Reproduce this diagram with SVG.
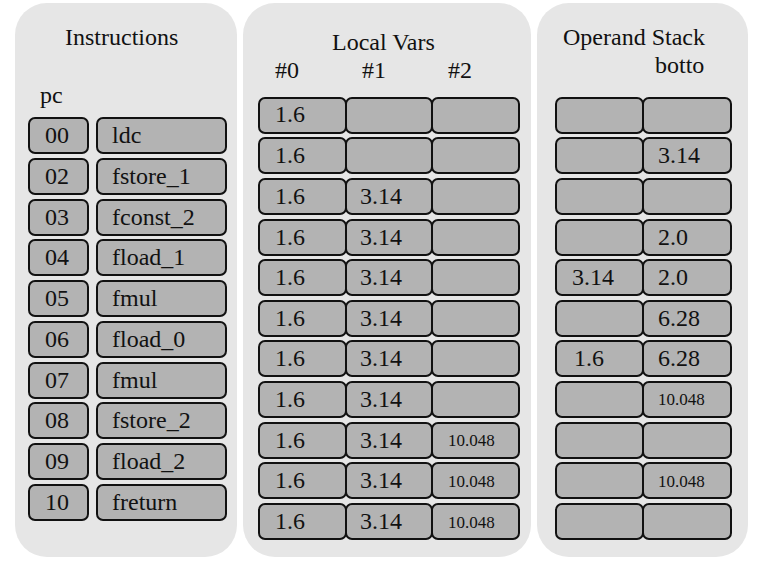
<svg xmlns="http://www.w3.org/2000/svg" width="766" height="564" viewBox="0 0 766 564">
  <style>
    .panel { fill: #e6e6e6; }
    .cell { fill: #b3b3b3; stroke: #111; stroke-width: 2; }
    .t { font-size: 24px; fill: #111; }
    .s { font-size: 17px; fill: #111; }
  </style>
  <rect width="766" height="564" fill="#ffffff"/>

  <g font-family="Liberation Serif, Times New Roman, Tinos, DejaVu Serif, Noto Serif, serif">
  <!-- Instructions panel -->
  <g id="instructions">
    <rect class="panel" x="15" y="3" width="222" height="554" rx="32"/>
    <text class="t" x="65" y="45">Instructions</text>
    <text class="t" x="40" y="103">pc</text>
    <g id="pc-col">
      <rect class="cell" x="29" y="118" width="59" height="35" rx="6"/>
      <rect class="cell" x="29" y="159" width="59" height="35" rx="6"/>
      <rect class="cell" x="29" y="200" width="59" height="35" rx="6"/>
      <rect class="cell" x="29" y="240" width="59" height="35" rx="6"/>
      <rect class="cell" x="29" y="281" width="59" height="35" rx="6"/>
      <rect class="cell" x="29" y="322" width="59" height="35" rx="6"/>
      <rect class="cell" x="29" y="363" width="59" height="35" rx="6"/>
      <rect class="cell" x="29" y="403" width="59" height="35" rx="6"/>
      <rect class="cell" x="29" y="444" width="59" height="35" rx="6"/>
      <rect class="cell" x="29" y="485" width="59" height="35" rx="6"/>
      <text class="t" x="45" y="143">00</text>
      <text class="t" x="45" y="184">02</text>
      <text class="t" x="45" y="225">03</text>
      <text class="t" x="45" y="265">04</text>
      <text class="t" x="45" y="306">05</text>
      <text class="t" x="45" y="347">06</text>
      <text class="t" x="45" y="388">07</text>
      <text class="t" x="45" y="428">08</text>
      <text class="t" x="45" y="469">09</text>
      <text class="t" x="45" y="510">10</text>
    </g>
    <g id="op-col">
      <rect class="cell" x="97" y="118" width="129" height="35" rx="6"/>
      <rect class="cell" x="97" y="159" width="129" height="35" rx="6"/>
      <rect class="cell" x="97" y="200" width="129" height="35" rx="6"/>
      <rect class="cell" x="97" y="240" width="129" height="35" rx="6"/>
      <rect class="cell" x="97" y="281" width="129" height="35" rx="6"/>
      <rect class="cell" x="97" y="322" width="129" height="35" rx="6"/>
      <rect class="cell" x="97" y="363" width="129" height="35" rx="6"/>
      <rect class="cell" x="97" y="403" width="129" height="35" rx="6"/>
      <rect class="cell" x="97" y="444" width="129" height="35" rx="6"/>
      <rect class="cell" x="97" y="485" width="129" height="35" rx="6"/>
      <text class="t" x="112" y="143">ldc</text>
      <text class="t" x="112" y="184">fstore_1</text>
      <text class="t" x="112" y="225">fconst_2</text>
      <text class="t" x="112" y="265">fload_1</text>
      <text class="t" x="112" y="306">fmul</text>
      <text class="t" x="112" y="347">fload_0</text>
      <text class="t" x="112" y="388">fmul</text>
      <text class="t" x="112" y="428">fstore_2</text>
      <text class="t" x="112" y="469">fload_2</text>
      <text class="t" x="112" y="510">freturn</text>
    </g>
  </g>

  <!-- Local variables panel -->
  <g id="local-vars">
    <rect class="panel" x="243" y="3" width="288" height="554" rx="32"/>
    <text class="t" x="332" y="50">Local Vars</text>
    <text class="t" x="275" y="78">#0</text>
    <text class="t" x="362" y="78">#1</text>
    <text class="t" x="448" y="78">#2</text>
    <g id="lv-cells">
      <rect class="cell" x="259" y="98" width="87" height="35" rx="6"/>
      <rect class="cell" x="346" y="98" width="86" height="35" rx="6"/>
      <rect class="cell" x="432" y="98" width="87" height="35" rx="6"/>
      <rect class="cell" x="259" y="138" width="87" height="35" rx="6"/>
      <rect class="cell" x="346" y="138" width="86" height="35" rx="6"/>
      <rect class="cell" x="432" y="138" width="87" height="35" rx="6"/>
      <rect class="cell" x="259" y="179" width="87" height="35" rx="6"/>
      <rect class="cell" x="346" y="179" width="86" height="35" rx="6"/>
      <rect class="cell" x="432" y="179" width="87" height="35" rx="6"/>
      <rect class="cell" x="259" y="220" width="87" height="35" rx="6"/>
      <rect class="cell" x="346" y="220" width="86" height="35" rx="6"/>
      <rect class="cell" x="432" y="220" width="87" height="35" rx="6"/>
      <rect class="cell" x="259" y="260" width="87" height="35" rx="6"/>
      <rect class="cell" x="346" y="260" width="86" height="35" rx="6"/>
      <rect class="cell" x="432" y="260" width="87" height="35" rx="6"/>
      <rect class="cell" x="259" y="301" width="87" height="35" rx="6"/>
      <rect class="cell" x="346" y="301" width="86" height="35" rx="6"/>
      <rect class="cell" x="432" y="301" width="87" height="35" rx="6"/>
      <rect class="cell" x="259" y="341" width="87" height="35" rx="6"/>
      <rect class="cell" x="346" y="341" width="86" height="35" rx="6"/>
      <rect class="cell" x="432" y="341" width="87" height="35" rx="6"/>
      <rect class="cell" x="259" y="382" width="87" height="35" rx="6"/>
      <rect class="cell" x="346" y="382" width="86" height="35" rx="6"/>
      <rect class="cell" x="432" y="382" width="87" height="35" rx="6"/>
      <rect class="cell" x="259" y="423" width="87" height="35" rx="6"/>
      <rect class="cell" x="346" y="423" width="86" height="35" rx="6"/>
      <rect class="cell" x="432" y="423" width="87" height="35" rx="6"/>
      <rect class="cell" x="259" y="463" width="87" height="35" rx="6"/>
      <rect class="cell" x="346" y="463" width="86" height="35" rx="6"/>
      <rect class="cell" x="432" y="463" width="87" height="35" rx="6"/>
      <rect class="cell" x="259" y="504" width="87" height="35" rx="6"/>
      <rect class="cell" x="346" y="504" width="86" height="35" rx="6"/>
      <rect class="cell" x="432" y="504" width="87" height="35" rx="6"/>
    </g>
    <g id="lv-values">
      <text class="t" x="275" y="122">1.6</text>
      <text class="t" x="275" y="163">1.6</text>
      <text class="t" x="275" y="204">1.6</text>
      <text class="t" x="360" y="204">3.14</text>
      <text class="t" x="275" y="245">1.6</text>
      <text class="t" x="360" y="245">3.14</text>
      <text class="t" x="275" y="285">1.6</text>
      <text class="t" x="360" y="285">3.14</text>
      <text class="t" x="275" y="326">1.6</text>
      <text class="t" x="360" y="326">3.14</text>
      <text class="t" x="275" y="366">1.6</text>
      <text class="t" x="360" y="366">3.14</text>
      <text class="t" x="275" y="407">1.6</text>
      <text class="t" x="360" y="407">3.14</text>
      <text class="t" x="275" y="448">1.6</text>
      <text class="t" x="360" y="448">3.14</text>
      <text class="s" x="448" y="446">10.048</text>
      <text class="t" x="275" y="488">1.6</text>
      <text class="t" x="360" y="488">3.14</text>
      <text class="s" x="448" y="487">10.048</text>
      <text class="t" x="275" y="529">1.6</text>
      <text class="t" x="360" y="529">3.14</text>
      <text class="s" x="448" y="528">10.048</text>
    </g>
  </g>

  <!-- Operand stack panel -->
  <g id="operand-stack">
    <rect class="panel" x="537" y="3" width="211" height="554" rx="32"/>
    <text class="t" x="563" y="45">Operand Stack</text>
    <text class="t" x="655" y="73">botto</text>
    <g id="os-cells">
      <rect class="cell" x="556" y="98" width="87" height="35" rx="6"/>
      <rect class="cell" x="643" y="98" width="88" height="35" rx="6"/>
      <rect class="cell" x="556" y="138" width="87" height="35" rx="6"/>
      <rect class="cell" x="643" y="138" width="88" height="35" rx="6"/>
      <rect class="cell" x="556" y="179" width="87" height="35" rx="6"/>
      <rect class="cell" x="643" y="179" width="88" height="35" rx="6"/>
      <rect class="cell" x="556" y="220" width="87" height="35" rx="6"/>
      <rect class="cell" x="643" y="220" width="88" height="35" rx="6"/>
      <rect class="cell" x="556" y="260" width="87" height="35" rx="6"/>
      <rect class="cell" x="643" y="260" width="88" height="35" rx="6"/>
      <rect class="cell" x="556" y="301" width="87" height="35" rx="6"/>
      <rect class="cell" x="643" y="301" width="88" height="35" rx="6"/>
      <rect class="cell" x="556" y="341" width="87" height="35" rx="6"/>
      <rect class="cell" x="643" y="341" width="88" height="35" rx="6"/>
      <rect class="cell" x="556" y="382" width="87" height="35" rx="6"/>
      <rect class="cell" x="643" y="382" width="88" height="35" rx="6"/>
      <rect class="cell" x="556" y="423" width="87" height="35" rx="6"/>
      <rect class="cell" x="643" y="423" width="88" height="35" rx="6"/>
      <rect class="cell" x="556" y="463" width="87" height="35" rx="6"/>
      <rect class="cell" x="643" y="463" width="88" height="35" rx="6"/>
      <rect class="cell" x="556" y="504" width="87" height="35" rx="6"/>
      <rect class="cell" x="643" y="504" width="88" height="35" rx="6"/>
    </g>
    <g id="os-values">
      <text class="t" x="658" y="163">3.14</text>
      <text class="t" x="658" y="245">2.0</text>
      <text class="t" x="572" y="285">3.14</text>
      <text class="t" x="658" y="285">2.0</text>
      <text class="t" x="658" y="326">6.28</text>
      <text class="t" x="574" y="366">1.6</text>
      <text class="t" x="658" y="366">6.28</text>
      <text class="s" x="658" y="405">10.048</text>
      <text class="s" x="658" y="487">10.048</text>
    </g>
  </g>
  </g>
</svg>
